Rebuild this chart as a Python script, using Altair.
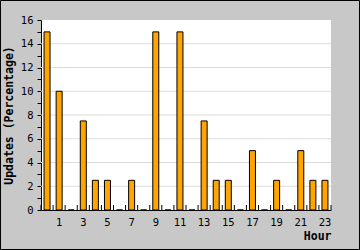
import altair as alt
import pandas as pd

hours = list(range(24))
values = [15, 10, 0, 7.5, 2.5, 2.5, 0, 2.5, 0, 15, 0, 15, 0, 7.5, 2.5, 2.5,
          0, 5, 0, 2.5, 0, 5, 2.5, 2.5]
x_labels = [1, 3, 5, 7, 9, 11, 13, 15, 17, 19, 21, 23]
y_ticks = list(range(0, 17))
grid_vals = [2, 4, 6, 8, 10, 12, 14]

df = pd.DataFrame({"hour": hours, "value": values})
grid_df = pd.DataFrame({"g": grid_vals})
end_df = pd.DataFrame({"hour": [hours[-1]]})

FONT = "DejaVu Sans Mono"
TICK_LEN = 0.42
YTITLE = "Updates (Percentage)"

xscale = alt.Scale(domain=hours, paddingInner=0, paddingOuter=0)
yscale = alt.Scale(domain=[0, 16], nice=False)

xaxis = alt.Axis(
    values=x_labels, labelAngle=0, ticks=False, tickSize=0,
    labelPadding=7, labelFont=FONT, labelFontSize=10.5,
    labelOverlap=False,
    labelColor="black", domainColor="black", domainWidth=1,
    titleFont=FONT, titleFontSize=11.5, titleFontWeight="bold",
    titleAnchor="end", titleAlign="right", titlePadding=3,
    titleColor="black", grid=False,
)
yaxis = alt.Axis(
    values=y_ticks,
    tickCount=17,
    labelExpr="datum.value % 2 == 0 ? datum.label : ''",
    labelOverlap=False,
    tickSize=4, tickColor="black", labelPadding=4,
    labelFont=FONT, labelFontSize=10.5, labelColor="black",
    domainColor="black", domainWidth=1, grid=False,
    titleFont=FONT, titleFontSize=11.5, titleFontWeight="bold",
    titleColor="black", titlePadding=6,
)

grid = alt.Chart(grid_df).mark_rule(color="#dcdcdc", strokeWidth=1).encode(
    y=alt.Y("g:Q", scale=yscale, axis=yaxis, title=YTITLE)
)

bars = alt.Chart(df).mark_bar(
    size=6, color="#ffa500", stroke="black", strokeWidth=1
).encode(
    x=alt.X("hour:O", scale=xscale, title="Hour", axis=xaxis),
    y=alt.Y("value:Q", scale=yscale, title=YTITLE, axis=yaxis),
)

xticks = alt.Chart(df).mark_rule(color="black", strokeWidth=1).encode(
    x=alt.X("hour:O", scale=xscale, bandPosition=0, title="Hour", axis=xaxis),
    y=alt.YDatum(0, type="quantitative", scale=yscale, axis=yaxis, title=YTITLE),
    y2=alt.Y2Datum(TICK_LEN),
)
xticks_end = alt.Chart(end_df).mark_rule(color="black", strokeWidth=1).encode(
    x=alt.X("hour:O", scale=xscale, bandPosition=1, title="Hour", axis=xaxis),
    y=alt.YDatum(0, type="quantitative", scale=yscale, axis=yaxis, title=YTITLE),
    y2=alt.Y2Datum(TICK_LEN),
)

frame = alt.Chart(pd.DataFrame({"a": [0]})).mark_rect(
    fill=None, stroke="black", strokeWidth=1
).encode(
    x=alt.value(-40.5), x2=alt.value(318.5),
    y=alt.value(-19.5), y2=alt.value(229.5),
)

chart = alt.layer(grid, bars, xticks, xticks_end, frame).properties(
    width=290,
    height=190,
    autosize=alt.AutoSizeParams(type="none"),
    padding={"left": 41, "top": 20, "right": 29, "bottom": 40},
    background="#c8c8c8",
).configure_view(fill="white", stroke=None)

chart.save("out.html", embed_options={"renderer": "svg", "actions": False})
